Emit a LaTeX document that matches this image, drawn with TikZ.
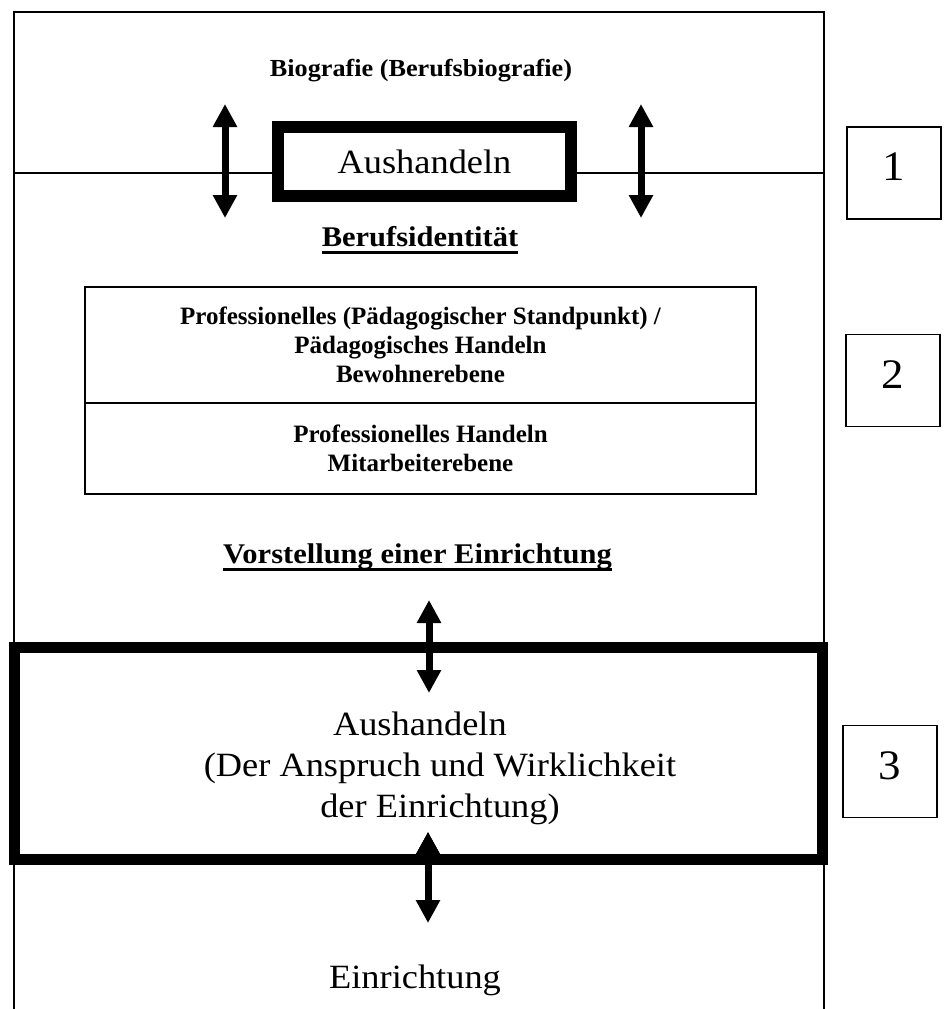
\documentclass[tikz,border=0pt]{standalone}
\usepackage{fontspec}
\setmainfont{Liberation Serif}[FakeStretch=1.07]
\newfontfamily\levelfont{Liberation Serif}
\usetikzlibrary{arrows.meta,positioning}
\newcommand{\ulword}[1]{\setbox0\hbox{#1}\rlap{\rule[-7.5pt]{\wd0}{2.2pt}}\box0}

\begin{document}
\begin{tikzpicture}[x=1pt,y=-1pt]
\tikzset{
  thinline/.style={draw,line width=1.6pt},
  heavybox/.style={draw,fill=white,line width=12pt,inner sep=0pt},
  bigbox/.style={draw,fill=white,line width=11pt,inner sep=0pt,
    minimum width=808pt,minimum height=212pt},
  levelbox/.style={draw,line width=1.6pt,inner sep=0pt,outer sep=0pt,
    minimum width=671pt,align=center,font=\levelfont\bfseries\fontsize{25}{29}\selectfont},
  heading/.style={font=\bfseries\fontsize{28.5}{34}\selectfont,anchor=base},
  bigtext/.style={font=\fontsize{34}{41}\selectfont,align=center},
  numbox/.style={draw,line width=1.6pt,minimum width=94pt,minimum height=92pt,
    inner sep=0pt,text depth=12pt,font=\fontsize{42}{48}\selectfont},
  twoway/.style={line width=7pt,{Triangle[width=23pt,length=23pt]}-{Triangle[width=23pt,length=23pt]}}
}
\useasboundingbox (0,0) rectangle (952,1009);
\fill[white] (0,0) rectangle (952,1009);

% outer frame, open at the bottom
\draw[thinline] (14,1009) -- (14,12) -- (824,12) -- (824,1009);
\draw[thinline] (14,173) -- (824,173);

% level 1
\node[font=\bfseries\fontsize{24.5}{30}\selectfont,anchor=base] (biografie) at (421,76) {Biografie (Berufsbiografie)};
\node[heavybox,minimum width=293pt,minimum height=69pt,font=\fontsize{34}{41}\selectfont] (aushandeln-top) at (424.5,161.5) {Aushandeln};
\node[heading] (berufsidentitaet) at (420,246) {\ulword{Berufsidentität}};

% level 2
\node[levelbox,minimum height=116pt] (level-resident) at (420.5,345) {Professionelles (Pädagogischer Standpunkt) /\\Pädagogisches Handeln\\Bewohnerebene};
\node[levelbox,minimum height=91pt,below=0pt of level-resident] (level-staff) {Professionelles Handeln\\Mitarbeiterebene};
\node[heading] (vorstellung) at (417.5,563) {\ulword{Vorstellung einer Einrichtung}};

% level 3
\node[bigbox] (aushandeln-big) at (418.5,753.5) {};
\node[bigtext] (anspruch) at (440,768) {\makebox[214pt][l]{Aushandeln}\\(Der Anspruch und Wirklichkeit\\der Einrichtung)};
\node[font=\fontsize{34}{41}\selectfont,anchor=base] (einrichtung) at (415,988) {Einrichtung};

% level numbers
\node[numbox] (num-1) at (894,173) {1};
\node[numbox] (num-2) at (893,380.5) {2};
\node[numbox] (num-3) at (890,771.5) {3};

\coordinate (bio-arrow-l) at (225,104);
\coordinate (ident-arrow-l) at (225,218);
\coordinate (bio-arrow-r) at (641,104);
\coordinate (ident-arrow-r) at (641,218);
\coordinate (vorst-arrow) at (429,600);
\coordinate (box-arrow-top) at (429,693);
\coordinate (box-arrow-bottom) at (428,832);
\coordinate (einr-arrow) at (428,923);

\path[draw,twoway]
(bio-arrow-l) edge (ident-arrow-l)
(bio-arrow-r) edge (ident-arrow-r)
(vorst-arrow) edge (box-arrow-top)
(box-arrow-bottom) edge (einr-arrow);
\end{tikzpicture}
\end{document}
